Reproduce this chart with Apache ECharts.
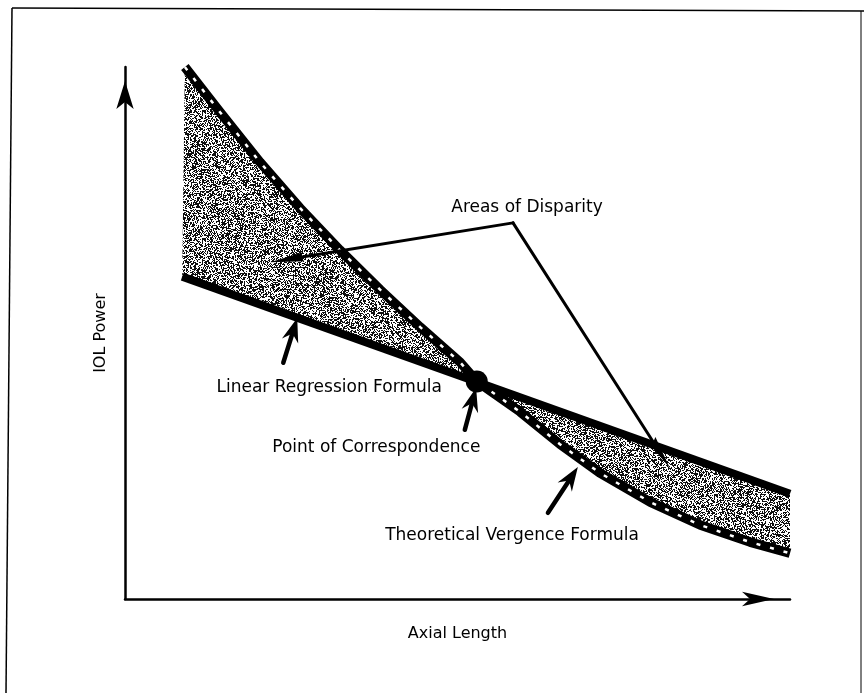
<!DOCTYPE html>
<html><head><meta charset="utf-8">
<script src="https://cdn.jsdelivr.net/npm/echarts@6/dist/echarts.min.js"></script>
<style>html,body{margin:0;padding:0;background:#fff}#c{width:864px;height:693px}</style>
</head><body><div id="c"></div>
<script>
// ---- data (schematic units: 0-100 on each axis) ----
const xAxisName = 'Axial Length';
const yAxisName = 'IOL Power';
const regressionLine = [[8.6, 60.6], [100, 19.8]];
const vergenceCurve = [[9.0,100],[14.3,91.5],[20.3,82.1],[26.3,73.5],[32.3,65.6],[38.4,58.1],[44.4,51.1],[50.4,44.5],[52.9,40.9],[59.4,35.2],[65.4,29.1],[71.4,23.7],[79.0,18.2],[86.5,13.9],[94.0,10.7],[100,8.6]];
const correspondencePoint = [[52.9, 40.9]];
const calloutText = ['Areas of Disparity','Linear Regression Formula','Point of Correspondence','Theoretical Vergence Formula'];
const calloutAt = [[60.45,73.5],[30.7,39.8],[37.8,28.4],[58.2,12.0]];
const disparityPointers = [[58.35,70.7,21.8,63.3],[58.35,70.7,81.95,24.6]];
const formulaPointers = [[23.8,44.4,25.9,52.8],[51.1,31.8,52.8,39.7],[63.6,16.2,68.1,24.8]];

// ---- stipple texture ----
function stipple(){
  const S=128, c=document.createElement('canvas'); c.width=c.height=S;
  const g=c.getContext('2d'); const img=g.createImageData(S,S);
  for(let y=0;y<S;y++)for(let x=0;x<S;x++){
    let n=Math.imul(x,374761393)^Math.imul(y,668265263);
    n=Math.imul(n^(n>>>13),1274126177); n=(n^(n>>>16))>>>0;
    const v=(n/4294967296)<0.5?15:255;
    const i=(y*S+x)*4; img.data[i]=img.data[i+1]=img.data[i+2]=v; img.data[i+3]=255;
  }
  g.putImageData(img,0,0); return c;
}
const pattern={image:stipple(),repeat:'repeat'};
const fillPolygon=vergenceCurve.concat(regressionLine.slice().reverse());

function arrowRenderer(headLen, headW, notch, shaftW){
  return function(params, api){
    const a=api.coord([api.value(0),api.value(1)]);
    const b=api.coord([api.value(2),api.value(3)]);
    const dx=b[0]-a[0], dy=b[1]-a[1], L=Math.hypot(dx,dy), ux=dx/L, uy=dy/L, nx=-uy, ny=ux;
    const base=[b[0]-ux*headLen,b[1]-uy*headLen];
    const np=[b[0]-ux*(headLen-notch),b[1]-uy*(headLen-notch)];
    return {type:'group',children:[
      {type:'line',shape:{x1:a[0],y1:a[1],x2:np[0],y2:np[1]},style:{stroke:'#000',lineWidth:shaftW,lineCap:'round'}},
      {type:'polygon',shape:{points:[b,[base[0]+nx*headW/2,base[1]+ny*headW/2],np,[base[0]-nx*headW/2,base[1]-ny*headW/2]]},style:{fill:'#000'}}
    ]};
  };
}

const font='DejaVu Sans';
const chart=echarts.init(document.getElementById('c'),null,{renderer:'canvas'});
chart.setOption({
  animation:false,
  backgroundColor:'#fff',
  grid:{left:125,top:67,right:74,bottom:94,containLabel:false},
  xAxis:{type:'value',min:0,max:100,splitLine:{show:false},axisTick:{show:false},axisLabel:{show:false},
    axisLine:{show:true,symbol:['none','arrow'],symbolSize:[11,32],symbolOffset:[0,-16],lineStyle:{color:'#000',width:2.5}},
    name:xAxisName,nameLocation:'middle',nameGap:27,nameTextStyle:{color:'#000',fontSize:16,fontFamily:font}},
  yAxis:{type:'value',min:0,max:100,splitLine:{show:false},axisTick:{show:false},axisLabel:{show:false},
    axisLine:{show:true,symbol:['none','arrow'],symbolSize:[13,28],symbolOffset:[0,-14],lineStyle:{color:'#000',width:2.5}},
    name:yAxisName,nameLocation:'middle',nameGap:16,nameTextStyle:{color:'#000',fontSize:16,fontFamily:font}},
  graphic:[
    {type:'line',shape:{x1:12,y1:8,x2:6,y2:693},style:{stroke:'#000',lineWidth:1.5}},
    {type:'line',shape:{x1:12,y1:8,x2:864,y2:11},style:{stroke:'#000',lineWidth:1.5}},
    {type:'line',shape:{x1:861,y1:11,x2:861,y2:693},style:{stroke:'#000',lineWidth:1}}
  ],
  series:[
    {type:'custom',silent:true,z:1,clip:false,data:[[0,0]],
      renderItem:function(params,api){
        if(params.dataIndex!==0)return null;
        return {type:'polygon',shape:{points:fillPolygon.map(p=>api.coord(p))},style:{fill:pattern}};
      }},
    {type:'line',data:regressionLine,showSymbol:false,z:3,silent:true,lineStyle:{color:'#000',width:8}},
    {type:'line',data:vergenceCurve,showSymbol:false,z:3,silent:true,lineStyle:{color:'#000',width:9.5,join:'round'}},
    {type:'line',data:vergenceCurve,showSymbol:false,z:4,silent:true,lineStyle:{color:'#fff',width:2.5,type:[4,10]}},
    {type:'scatter',data:correspondencePoint,symbol:'circle',symbolSize:22,z:5,silent:true,itemStyle:{color:'#000',opacity:1}},
    {type:'custom',silent:true,z:6,clip:false,data:disparityPointers,renderItem:arrowRenderer(34,9,3,3)},
    {type:'custom',silent:true,z:6,clip:false,data:formulaPointers,renderItem:arrowRenderer(24,17,8,4.5)},
    {type:'scatter',silent:true,z:7,symbolSize:0,itemStyle:{opacity:1},
      data:calloutText.map((t,i)=>({name:t,value:calloutAt[i]})),
      label:{show:true,position:'inside',formatter:'{b}',color:'#000',textBorderWidth:0,fontSize:17,fontFamily:font}}
  ]
});
</script></body></html>
